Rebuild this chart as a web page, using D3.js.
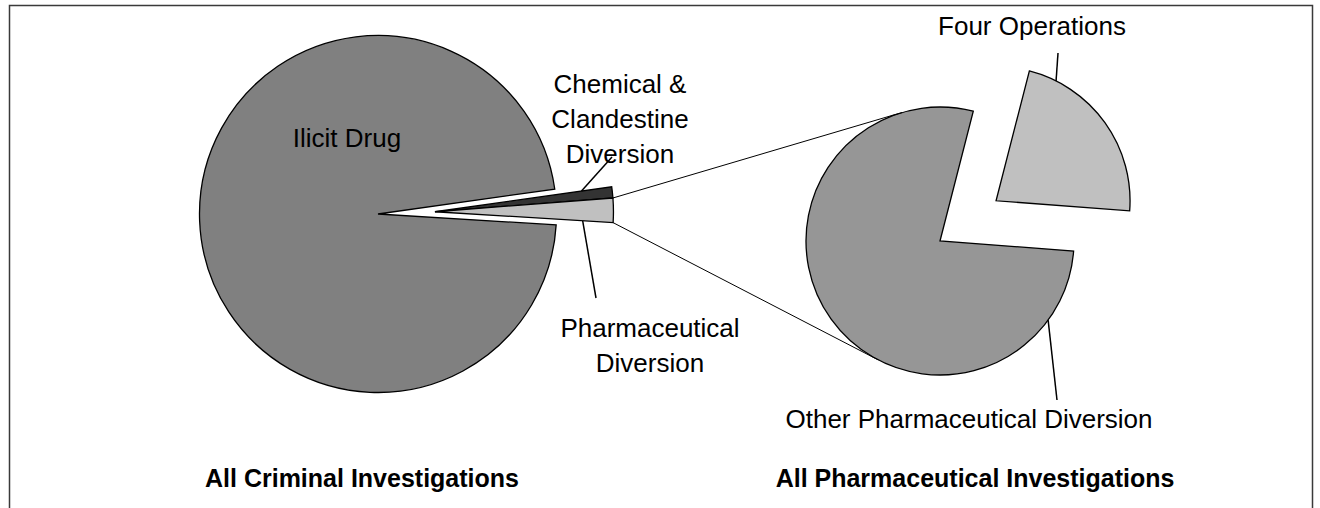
<!DOCTYPE html>
<html>
<head>
<meta charset="utf-8">
<script src="https://cdn.jsdelivr.net/npm/d3@7"></script>
<style>
  html, body { margin: 0; padding: 0; background: #fff; }
  svg { display: block; }
  text { font-family: "Liberation Sans", Arial, sans-serif; fill: #000; }
</style>
</head>
<body>
<svg id="chart" width="1320" height="508"></svg>
<script>
// ---- data ----
const categories = ["Ilicit Drug", "Chemical & Clandestine Diversion", "Pharmaceutical Diversion"];
const values = [96.8, 1.0, 2.2];
const subCategories = ["Other Pharmaceutical Diversion", "Four Operations"];
const subValues = [77.8, 22.2];
const chartTitles = ["All Criminal Investigations", "All Pharmaceutical Investigations"];
const mainLabelLines = [["Ilicit Drug"], ["Chemical &", "Clandestine", "Diversion"], ["Pharmaceutical", "Diversion"]];
const subLabelLines = [["Other Pharmaceutical Diversion"], ["Four Operations"]];

// ---- layout ----
const W = 1320, H = 508;
const svg = d3.select("#chart");
const deg = Math.PI / 180;

const mainC = [378, 214], mainR = 178.5, mainExplode = 57;
const subC = [940, 241], subR = 134, subExplode = 69;
const mainColors = ["#808080", "#333333", "#c0c0c0"];
const subColors = ["#969696", "#c0c0c0"];

// frame
svg.append("path")
  .attr("d", `M9.5,${H} V5.5 H1312.5 V${H}`)
  .attr("fill", "none").attr("stroke", "#3a3a3a").attr("stroke-width", 1.5);

const polar = (c, a, r) => [c[0] + r * Math.sin(a), c[1] - r * Math.cos(a)];

// main pie
const mainStart = 93.5 * deg;
const mainPie = d3.pie().sort(null).value(d => d).startAngle(mainStart).endAngle(mainStart + 2 * Math.PI);
const mainArcs = mainPie(values);
const arcMain = d3.arc().innerRadius(0).outerRadius(mainR);
// secondary portion (chem + pharm) exploded along its combined mid angle
const secMid = (mainArcs[1].startAngle + mainArcs[2].endAngle) / 2;
const secOff = [mainExplode * Math.sin(secMid), -mainExplode * Math.cos(secMid)];
const mainCenters = mainArcs.map((a, i) => i === 0 ? mainC : [mainC[0] + secOff[0], mainC[1] + secOff[1]]);

svg.append("g").selectAll("path").data(mainArcs).join("path")
  .attr("transform", (d, i) => `translate(${mainCenters[i][0]},${mainCenters[i][1]})`)
  .attr("d", arcMain)
  .attr("fill", (d, i) => mainColors[i])
  .attr("stroke", "#000").attr("stroke-width", 1.3).attr("stroke-linejoin", "miter");

// sub pie
const subStart = 94.3 * deg;
const subPie = d3.pie().sort(null).value(d => d).startAngle(subStart).endAngle(subStart + 2 * Math.PI);
const subArcs = subPie(subValues);
const arcSub = d3.arc().innerRadius(0).outerRadius(subR);
const subCenters = subArcs.map((a, i) => {
  if (i === 0) return subC;
  const m = (a.startAngle + a.endAngle) / 2;
  return [subC[0] + subExplode * Math.sin(m), subC[1] - subExplode * Math.cos(m)];
});
svg.append("g").selectAll("path").data(subArcs).join("path")
  .attr("transform", (d, i) => `translate(${subCenters[i][0]},${subCenters[i][1]})`)
  .attr("d", arcSub)
  .attr("fill", (d, i) => subColors[i])
  .attr("stroke", "#000").attr("stroke-width", 1.3);

// connector lines: tangents from pharm slice outer corners to sub pie
function tangent(P, C, r, sign) {
  const dx = C[0] - P[0], dy = C[1] - P[1];
  const d = Math.hypot(dx, dy);
  const th = Math.atan2(dy, dx), al = Math.asin(r / d), L = Math.sqrt(d * d - r * r);
  const a = th + sign * al;
  return [P[0] + L * Math.cos(a), P[1] + L * Math.sin(a)];
}
const ph = mainArcs[2];
const pTop = polar(mainCenters[2], ph.startAngle, mainR);
const pBot = polar(mainCenters[2], ph.endAngle, mainR);
[[pTop, -1], [pBot, 1]].forEach(([P, s]) => {
  const T = tangent(P, subC, subR, s);
  svg.append("line").attr("x1", P[0]).attr("y1", P[1]).attr("x2", T[0]).attr("y2", T[1])
    .attr("stroke", "#000").attr("stroke-width", 1);
});

// labels
const fs = 26, lh = 35;
function label(lines, x, yBase, anchorWeight) {
  const t = svg.append("text").attr("text-anchor", "middle").attr("font-size", fs);
  lines.forEach((s, i) => t.append("tspan").attr("x", x).attr("y", yBase + i * lh).text(s));
}
// leader lines (from slice geometry to label)
function leader(from, to) {
  svg.append("line").attr("x1", from[0]).attr("y1", from[1]).attr("x2", to[0]).attr("y2", to[1])
    .attr("stroke", "#000").attr("stroke-width", 1.5);
}
leader(polar(mainCenters[1], mainArcs[1].startAngle, 148), [612, 157]);
leader(polar(mainCenters[2], mainArcs[2].endAngle, 148), [596, 298]);
leader(polar(subCenters[1], 26.6 * deg, subR), [1058, 53]);
leader(polar(subCenters[0], 126.2 * deg, subR), [1057, 400]);

label(mainLabelLines[0], 347, 147);
label(mainLabelLines[1], 620, 93);
label(mainLabelLines[2], 650, 337);
label(subLabelLines[1], 1032, 35);
label(subLabelLines[0], 969, 428);

// titles
[[362, 487], [975, 487]].forEach(([x, y], i) => {
  svg.append("text").attr("x", x).attr("y", y).attr("text-anchor", "middle")
    .attr("font-size", 25).attr("font-weight", "bold").text(chartTitles[i]);
});
</script>
</body>
</html>
